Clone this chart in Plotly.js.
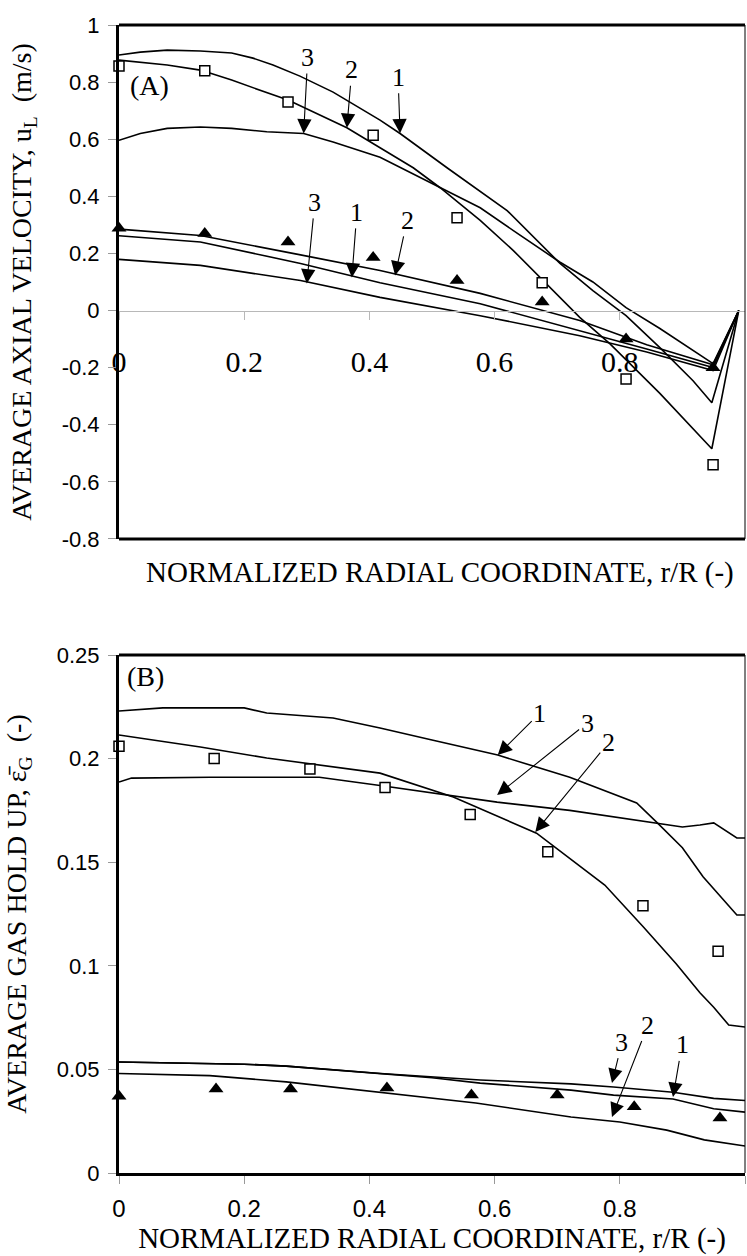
<!DOCTYPE html>
<html><head><meta charset="utf-8">
<script src="https://cdn.plot.ly/plotly-3.0.1.min.js"></script>
<style>html,body{margin:0;padding:0;background:#fff}#chart{width:747px;height:1256px}</style>
</head><body><div id="chart"></div>
<script>
// ---------- Panel A: average axial liquid velocity ----------
var rSqA = [0, 0.137, 0.27, 0.406, 0.54, 0.676, 0.81, 0.949];
var uSqA = [0.856, 0.84, 0.73, 0.614, 0.325, 0.097, -0.24, -0.54];
var rTriA = [0, 0.137, 0.27, 0.406, 0.54, 0.676, 0.81, 0.949];
var uTriA = [0.288, 0.27, 0.24, 0.186, 0.105, 0.03, -0.10, -0.2];

var rA1 = [0, 0.034, 0.077, 0.13, 0.18, 0.214, 0.246, 0.289, 0.342, 0.417, 0.449, 0.524, 0.62, 0.684, 0.704, 0.757, 0.81, 0.864, 0.917, 0.947, 0.99];
var uA1 = [0.895, 0.905, 0.912, 0.909, 0.902, 0.884, 0.86, 0.821, 0.765, 0.667, 0.62, 0.50, 0.35, 0.21, 0.166, 0.07, -0.018, -0.13, -0.246, -0.323, 0];
var rA2 = [0, 0.077, 0.13, 0.18, 0.27, 0.364, 0.417, 0.47, 0.513, 0.577, 0.63, 0.676, 0.736, 0.784, 0.864, 0.947, 0.99];
var uA2 = [0.877, 0.86, 0.842, 0.807, 0.737, 0.64, 0.57, 0.50, 0.43, 0.316, 0.21, 0.11, -0.024, -0.116, -0.29, -0.484, 0];
var rA3 = [0, 0.034, 0.077, 0.13, 0.18, 0.236, 0.295, 0.342, 0.417, 0.513, 0.577, 0.63, 0.684, 0.704, 0.757, 0.81, 0.864, 0.917, 0.949, 0.99];
var uA3 = [0.596, 0.62, 0.638, 0.643, 0.638, 0.626, 0.62, 0.59, 0.537, 0.43, 0.36, 0.28, 0.20, 0.17, 0.10, 0.01, -0.063, -0.14, -0.186, 0];

var rAlow = [0, 0.13, 0.29, 0.417, 0.577, 0.736, 0.843, 0.949, 0.99];
var uAlowU = [0.285, 0.263, 0.195, 0.14, 0.06, -0.035, -0.12, -0.19, 0];
var uAlowM = [0.262, 0.24, 0.165, 0.097, 0.024, -0.07, -0.135, -0.20, 0];
var uAlowL = [0.179, 0.158, 0.105, 0.046, -0.018, -0.088, -0.145, -0.21, 0];

// ---------- Panel B: average gas hold-up ----------
var rSqB = [0, 0.152, 0.305, 0.425, 0.561, 0.685, 0.837, 0.957];
var eSqB = [0.206, 0.200, 0.195, 0.186, 0.173, 0.155, 0.129, 0.107];
var rTriB = [0, 0.155, 0.274, 0.428, 0.563, 0.70, 0.823, 0.96];
var eTriB = [0.037, 0.0405, 0.0405, 0.041, 0.0376, 0.0376, 0.032, 0.0265];

var rB1 = [0, 0.07, 0.2, 0.236, 0.342, 0.417, 0.5, 0.605, 0.72, 0.827, 0.86, 0.90, 0.933, 0.965, 0.987, 1.0];
var eB1 = [0.223, 0.2245, 0.2245, 0.222, 0.2196, 0.2148, 0.209, 0.2017, 0.191, 0.1786, 0.169, 0.157, 0.143, 0.132, 0.1245, 0.1245];
var rB2 = [0, 0.13, 0.236, 0.417, 0.534, 0.667, 0.776, 0.837, 0.89, 0.928, 0.95, 0.974, 1.0];
var eB2 = [0.2114, 0.2056, 0.2003, 0.193, 0.1815, 0.164, 0.139, 0.119, 0.101, 0.087, 0.080, 0.0714, 0.0705];
var rB3 = [0, 0.02, 0.145, 0.32, 0.417, 0.604, 0.72, 0.853, 0.90, 0.928, 0.95, 0.987, 1.0];
var eB3 = [0.1887, 0.1906, 0.191, 0.191, 0.187, 0.179, 0.175, 0.169, 0.167, 0.168, 0.169, 0.1617, 0.1617];

var rBlowU = [0, 0.2, 0.267, 0.418, 0.577, 0.722, 0.79, 0.885, 0.95, 1.0];
var eBlowU = [0.0536, 0.0525, 0.0516, 0.048, 0.0449, 0.043, 0.0415, 0.039, 0.036, 0.035];
var rBlowM = [0, 0.2, 0.267, 0.418, 0.5, 0.577, 0.722, 0.79, 0.885, 0.95, 1.0];
var eBlowM = [0.0536, 0.0525, 0.0516, 0.048, 0.046, 0.0434, 0.040, 0.0376, 0.0357, 0.031, 0.0294];
var rBlowL = [0, 0.145, 0.267, 0.418, 0.57, 0.722, 0.8, 0.875, 0.935, 1.0];
var eBlowL = [0.048, 0.047, 0.044, 0.039, 0.0338, 0.027, 0.0246, 0.0207, 0.016, 0.013];

// tick labels
var yTickValsA = [-0.8, -0.6, -0.4, -0.2, 0, 0.2, 0.4, 0.6, 0.8, 1];
var yTickTextA = ["-0.8", "-0.6", "-0.4", "-0.2", "0", "0.2", "0.4", "0.6", "0.8", "1"];
var xTickValsA = [0, 0.2, 0.4, 0.6, 0.8];
var xTickTextA = ["0", "0.2", "0.4", "0.6", "0.8"];
var yTickValsB = [0, 0.05, 0.1, 0.15, 0.2, 0.25];
var yTickTextB = ["0", "0.05", "0.1", "0.15", "0.2", "0.25"];
var xTickValsB = [0, 0.2, 0.4, 0.6, 0.8, 1];
var xTickTextB = ["0", "0.2", "0.4", "0.6", "0.8", "1"];

var SERIF = "Liberation Serif, Times New Roman, serif";
var SANS = "Liberation Sans, Arial, sans-serif";

function line(x, y, xa, ya) {
  return {x: x, y: y, xaxis: xa, yaxis: ya, mode: "lines", type: "scatter",
          line: {color: "#000", width: 1.6}, hoverinfo: "skip", showlegend: false, cliponaxis: false};
}
function sq(x, y, xa, ya) {
  return {x: x, y: y, xaxis: xa, yaxis: ya, mode: "markers", type: "scatter", cliponaxis: false,
          marker: {symbol: "square", size: 10, color: "#fff", line: {color: "#000", width: 1.5}}, showlegend: false};
}
function tri(x, y, xa, ya) {
  return {x: x, y: y, xaxis: xa, yaxis: ya, mode: "markers", type: "scatter", cliponaxis: false,
          marker: {symbol: "triangle-up", size: 13, color: "#000"}, showlegend: false};
}

var data = [
  line(rA1, uA1, "x", "y"), line(rA2, uA2, "x", "y"), line(rA3, uA3, "x", "y"),
  line(rAlow, uAlowU, "x", "y"), line(rAlow, uAlowM, "x", "y"), line(rAlow, uAlowL, "x", "y"),
  sq(rSqA, uSqA, "x", "y"), tri(rTriA, uTriA, "x", "y"),
  line(rB1, eB1, "x2", "y2"), line(rB2, eB2, "x2", "y2"), line(rB3, eB3, "x2", "y2"),
  line(rBlowU, eBlowU, "x2", "y2"), line(rBlowM, eBlowM, "x2", "y2"), line(rBlowL, eBlowL, "x2", "y2"),
  sq(rSqB, eSqB, "x2", "y2"), tri(rTriB, eTriB, "x2", "y2")
];

var domA = [0.5523, 1];
var domB = [0, 0.4512];
var zeroPos = domA[0] + (0.8 / 1.8) * (domA[1] - domA[0]);

function arrow(xr, yr, x, y, t, ax, ay) {
  return {xref: xr, yref: yr, x: x, y: y, text: t, showarrow: true, ax: ax, ay: ay,
          arrowhead: 2, arrowsize: 2.6, arrowwidth: 1.1, arrowcolor: "#000", standoff: 0, startstandoff: 0,
          font: {family: SERIF, size: 26, color: "#000"}};
}

var layout = {
  width: 747, height: 1256,
  margin: {l: 119, r: 2, t: 25, b: 83},
  paper_bgcolor: "#fff", plot_bgcolor: "#fff",
  showlegend: false,
  font: {family: SANS, color: "#000"},
  xaxis: {domain: [0, 1], range: [0, 1], anchor: "free", position: zeroPos,
          showline: true, linecolor: "#b8b8b8", linewidth: 1, showgrid: false, zeroline: false,
          ticks: "outside", ticklen: 8, tickcolor: "#b8b8b8", tickvals: xTickValsA, ticktext: xTickTextA,
          tickfont: {family: SERIF, size: 30, color: "#000"}, ticklabelstandoff: 16},
  yaxis: {domain: domA, range: [-0.8, 1], anchor: "x", showline: true, linecolor: "#000", linewidth: 3,
          showgrid: false, zeroline: false, ticks: "outside", ticklen: 8, tickcolor: "#999",
          tickvals: yTickValsA, ticktext: yTickTextA, tickfont: {family: SANS, size: 22, color: "#000"},
          ticklabelstandoff: 4,
          title: {text: "AVERAGE AXIAL VELOCITY, u<sub>L</sub>  (m/s)", font: {family: SERIF, size: 28, color: "#000"}, standoff: 22}},
  xaxis2: {domain: [0, 1], range: [0, 1], anchor: "y2", showline: true, linecolor: "#000", linewidth: 3,
           showgrid: false, zeroline: false, ticks: "outside", ticklen: 8, tickcolor: "#999",
           tickvals: xTickValsB, ticktext: xTickTextB, tickfont: {family: SANS, size: 24, color: "#000"},
           ticklabelstandoff: 4,
           title: {text: "NORMALIZED RADIAL COORDINATE, r/R (-)", font: {family: SERIF, size: 29, color: "#000"}, standoff: 6}},
  yaxis2: {domain: domB, range: [0, 0.25], anchor: "x2", showline: true, linecolor: "#000", linewidth: 3,
           showgrid: false, zeroline: false, ticks: "outside", ticklen: 8, tickcolor: "#999",
           tickvals: yTickValsB, ticktext: yTickTextB, tickfont: {family: SANS, size: 22, color: "#000"},
           ticklabelstandoff: 4,
           title: {text: "AVERAGE GAS HOLD UP, \u03B5\u0304<sub>G</sub>  (-)", font: {family: SERIF, size: 28, color: "#000"}, standoff: 22}},
  shapes: [
    {type: "line", xref: "x domain", yref: "y domain", x0: 0, x1: 1, y0: 1, y1: 1, line: {color: "#000", width: 3}},
    {type: "line", xref: "x domain", yref: "y domain", x0: 0, x1: 1, y0: 0, y1: 0, line: {color: "#000", width: 3}},
    {type: "line", xref: "x domain", yref: "y domain", x0: 1, x1: 1, y0: 0, y1: 1, line: {color: "#000", width: 1}},
    {type: "line", xref: "x2 domain", yref: "y2 domain", x0: 0, x1: 1, y0: 1, y1: 1, line: {color: "#000", width: 3}},
    {type: "line", xref: "x2 domain", yref: "y2 domain", x0: 1, x1: 1, y0: 0, y1: 1, line: {color: "#000", width: 1}}
  ],
  annotations: [
    {xref: "paper", yref: "paper", x: 0.513, y: 0.5235, xanchor: "center", yanchor: "middle", showarrow: false,
     text: "NORMALIZED RADIAL COORDINATE, r/R (-)", font: {family: SERIF, size: 29, color: "#000"}},
    {xref: "x domain", yref: "y domain", x: 0.014, y: 0.883, xanchor: "left", yanchor: "middle", showarrow: false,
     text: "(A)", font: {family: SERIF, size: 28, color: "#000"}},
    {xref: "x2 domain", yref: "y2 domain", x: 0.01, y: 0.959, xanchor: "left", yanchor: "middle", showarrow: false,
     text: "(B)", font: {family: SERIF, size: 28, color: "#000"}},
    arrow("x", "y", 0.295, 0.62, "3", 4, -76),
    arrow("x", "y", 0.364, 0.64, "2", 5, -58),
    arrow("x", "y", 0.449, 0.621, "1", -2, -56),
    arrow("x", "y", 0.30, 0.095, "3", 8, -81),
    arrow("x", "y", 0.372, 0.116, "1", 5, -65),
    arrow("x", "y", 0.441, 0.123, "2", 12, -55),
    arrow("x2", "y2", 0.605, 0.2017, "1", 42, -42),
    arrow("x2", "y2", 0.604, 0.1824, "3", 90, -72),
    arrow("x2", "y2", 0.665, 0.1646, "2", 73, -89),
    arrow("x2", "y2", 0.7875, 0.0434, "3", 10, -41),
    arrow("x2", "y2", 0.7875, 0.027, "2", 36, -92),
    arrow("x2", "y2", 0.885, 0.0367, "1", 9, -52)
  ]
};

Plotly.newPlot("chart", data, layout, {displayModeBar: false, staticPlot: true});
</script></body></html>
